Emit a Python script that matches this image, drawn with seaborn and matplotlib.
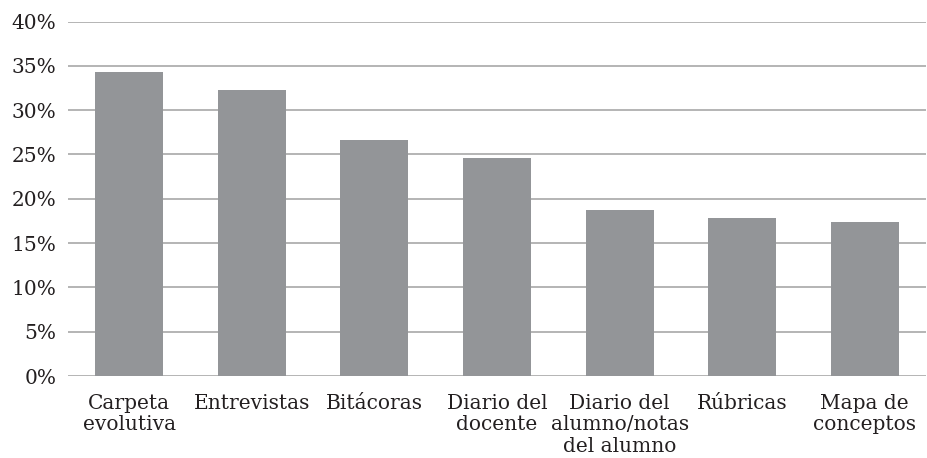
import matplotlib
matplotlib.use("Agg")
import matplotlib.pyplot as plt
import seaborn as sns
import pandas as pd
from matplotlib.ticker import FuncFormatter, MultipleLocator

categories = ["Carpeta\nevolutiva", "Entrevistas", "Bitácoras", "Diario del\ndocente",
              "Diario del\nalumno/notas\ndel alumno", "Rúbricas", "Mapa de\nconceptos"]
values = [34.3, 32.3, 26.6, 24.6, 18.7, 17.8, 17.4]

sns.set_style("white")
plt.rcParams['font.family'] = ['DejaVu Serif']

df = pd.DataFrame({"cat": categories, "val": values})

fig = plt.figure(figsize=(9.27, 4.58), dpi=100)
ax = fig.add_axes([68/927, 1-376/458, (926-68)/927, (376-21.5)/458])
sns.barplot(data=df, x="cat", y="val", color="#939598", width=0.555, ax=ax,
            saturation=1, zorder=3, linewidth=0)
ax.set_ylim(0, 40)
ax.yaxis.set_major_locator(MultipleLocator(5))
ax.yaxis.set_major_formatter(FuncFormatter(lambda v, p: f"{int(round(v))}%"))
ax.grid(axis="y", color="#a0a0a0", linewidth=1.1, zorder=0)
ax.set_axisbelow(True)
for s in ax.spines.values():
    s.set_visible(False)
ax.set_xlabel("")
ax.set_ylabel("")
ax.tick_params(axis="both", length=0, labelsize=14.5, colors="#231f20")
ax.tick_params(axis="y", pad=8.5)
ax.tick_params(axis="x", pad=13)
for t in ax.get_xticklabels():
    t.set_linespacing(1.15)
fig.savefig("out.png", dpi=100)
